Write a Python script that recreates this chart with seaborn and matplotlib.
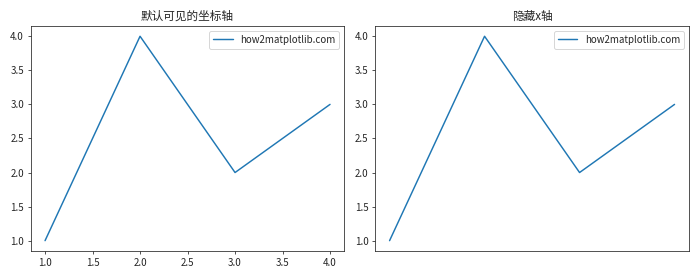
import matplotlib
matplotlib.use("Agg")
import matplotlib.pyplot as plt
import seaborn as sns
import pandas as pd

x = [1, 2, 3, 4]
y = [1, 4, 2, 3]
titles = ["默认可见的坐标轴", "隐藏x轴"]
label = "how2matplotlib.com"

sns.set_style("ticks")
plt.rcParams['font.family'] = ['Noto Sans CJK SC', 'DejaVu Sans']
plt.rcParams['font.size'] = 10

df = pd.DataFrame({"x": x, "y": y})
fig, axes = plt.subplots(1, 2, figsize=(10, 4), dpi=70)
for ax, t in zip(axes, titles):
    sns.lineplot(data=df, x="x", y="y", ax=ax, label=label, color="#1f77b4")
    ax.set_title(t, fontsize=12)
    ax.set_xlabel("")
    ax.set_ylabel("")
    ax.tick_params(labelsize=10)
    ax.legend(loc="upper right", fontsize=10)
    for s in ax.spines.values():
        s.set_visible(True)
axes[1].xaxis.set_visible(False)
fig.subplots_adjust(left=0.044, right=0.984, top=0.907, bottom=0.104, wspace=0.099)
fig.savefig("out.png", dpi=70)
